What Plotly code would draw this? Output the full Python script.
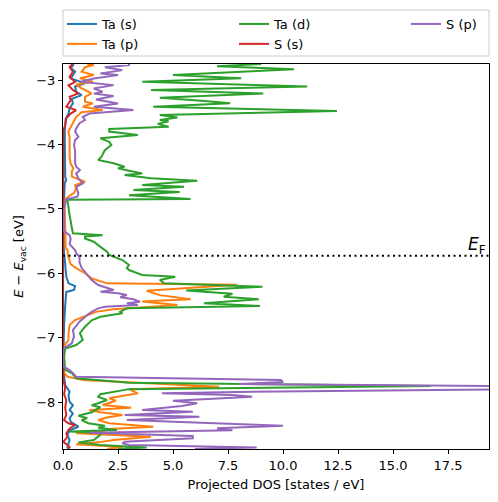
import plotly.graph_objects as go

# ---------------- data ----------------
ta_s_E = [-2.75, -2.767, -2.81, -2.87, -2.974, -3.051, -3.10, -3.182, -3.233, -3.29, -3.362, -3.44,
          -3.517, -3.6, -3.8, -4.2, -4.5, -4.553, -4.6, -4.85, -5.2, -5.6, -5.9, -6.05, -6.157, -6.2,
          -6.26, -6.29, -6.5, -6.8, -7.2, -7.5, -7.736, -7.80, -7.84, -7.90, -7.995, -8.05, -8.124,
          -8.18, -8.253, -8.31, -8.384, -8.44, -8.512, -8.59, -8.70, -8.73]
ta_s_dos = [0.45, 0.47, 0.35, 0.55, 0.35, 1.0, 0.55, 0.6, 0.85, 0.4, 0.45, 0.3,
            0.25, 0.12, 0.08, 0.08, 0.1, 0.15, 0.08, 0.05, 0.02, 0.03, 0.1, 0.15, 0.25, 0.55,
            0.5, 0.15, 0.1, 0.05, 0.02, 0.02, 0.1, 0.2, 0.3, 0.25, 0.3, 0.45, 0.3,
            0.45, 0.3, 0.35, 0.7, 0.3, 0.2, 0.3, 0.2, 0.25]

ta_p_E = [-2.75, -2.767, -2.80, -2.87, -2.922, -2.97, -3.026, -3.07, -3.129, -3.207, -3.26, -3.337,
          -3.362, -3.415, -3.466, -3.50, -3.57, -3.648, -3.72, -3.803, -3.88, -3.98, -4.09, -4.19,
          -4.30, -4.371, -4.42, -4.50, -4.579, -4.63, -4.682, -4.75, -4.812, -4.852, -5.0, -5.4,
          -5.6, -5.64, -5.75, -5.86, -5.92, -6.0, -6.08, -6.157, -6.18, -6.272, -6.34, -6.405,
          -6.44, -6.494, -6.561, -6.60, -6.649, -6.727, -6.804, -6.93, -7.037, -7.141, -7.3,
          -7.55, -7.607, -7.66, -7.763, -7.80, -7.865, -7.943, -7.98, -8.047, -8.089, -8.124,
          -8.16, -8.202, -8.24, -8.28, -8.33, -8.384, -8.42, -8.45, -8.486, -8.539, -8.59,
          -8.627, -8.657, -8.70, -8.73]
ta_p_dos = [1.1, 1.4, 1.0, 0.85, 1.4, 0.77, 1.36, 0.6, 0.85, 1.3, 1.0, 1.0,
            1.36, 0.9, 1.8, 0.85, 0.6, 0.47, 0.35, 0.24, 0.3, 0.3, 0.3, 0.3,
            0.35, 0.47, 0.4, 0.4, 1.0, 0.55, 0.6, 0.5, 0.24, 0.1, 0.08, 0.1,
            0.12, 0.2, 0.25, 0.35, 0.6, 1.0, 1.3, 2.0, 7.9, 3.8, 4.4, 5.8,
            3.6, 5.2, 2.3, 1.5, 1.1, 0.55, 0.3, 0.25, 0.25, 0.02, 0.02,
            0.05, 0.2, 0.9, 7.1, 3.0, 3.4, 2.1, 2.4, 1.8, 3.1, 1.2,
            1.7, 2.7, 2.0, 1.6, 2.1, 4.1, 2.1, 1.8, 0.6, 4.0, 2.3,
            1.6, 0.6, 2.7, 2.0]

ta_d_E = [-2.75, -2.785, -2.83, -2.92, -2.97, -3.026, -3.10, -3.155, -3.21, -3.275, -3.32, -3.36,
          -3.415, -3.48, -3.543, -3.58, -3.62, -3.64, -3.68, -3.725, -3.76, -3.80, -3.854, -3.905,
          -3.958, -4.01, -4.09, -4.19, -4.242, -4.293, -4.346, -4.37, -4.40, -4.449, -4.475,
          -4.526, -4.563, -4.63, -4.657, -4.708, -4.74, -4.79, -4.845, -4.86, -5.1, -5.38, -5.41,
          -5.43, -5.46, -5.51, -5.59, -5.666, -5.717, -5.795, -5.87, -5.92, -5.95, -6.028, -6.054,
          -6.106, -6.157, -6.21, -6.27, -6.32, -6.365, -6.405, -6.467, -6.509, -6.545, -6.598,
          -6.62, -6.675, -6.73, -6.83, -6.93, -7.037, -7.115, -7.17, -7.3, -7.5, -7.55, -7.63,
          -7.70, -7.752, -7.80, -7.88, -7.92, -7.969, -8.02, -8.05, -8.08, -8.124, -8.16, -8.213,
          -8.25, -8.28, -8.33, -8.37, -8.40, -8.435, -8.46, -8.48, -8.54, -8.59, -8.627, -8.668,
          -8.705, -8.73]
ta_d_dos = [9.0, 7.0, 10.5, 5.0, 8.1, 3.6, 11.1, 4.0, 9.1, 4.4, 6.3, 7.6,
            4.1, 12.45, 4.4, 5.2, 4.4, 4.8, 4.3, 4.8, 2.1, 2.1, 3.4, 1.7,
            2.1, 2.2, 1.9, 1.75, 1.6, 2.3, 2.8, 2.5, 2.9, 3.6, 2.8,
            4.0, 6.1, 3.6, 5.5, 3.2, 5.3, 3.0, 5.8, 0.2, 0.3, 0.45, 1.8,
            1.0, 1.0, 1.4, 1.7, 2.0, 2.1, 2.7, 3.0, 2.9, 3.0, 3.6, 5.1,
            4.4, 4.6, 9.06, 5.6, 7.7, 7.3, 8.9, 6.4, 8.95, 2.9, 2.6,
            2.7, 1.7, 1.3, 1.0, 0.77, 0.9, 0.6, 0.1, 0.05, 0.1, 0.4, 0.6,
            3.0, 16.7, 3.0, 1.7, 1.6, 2.0, 1.6, 1.3, 1.7, 1.45, 1.3, 0.7,
            1.1, 0.85, 1.15, 1.9, 1.6, 2.45, 0.3, 1.8, 1.6, 1.4, 0.7, 1.7,
            3.8, 2.5]

s_s_E = [-2.75, -2.767, -2.80, -2.87, -2.95, -3.026, -3.08, -3.155, -3.207, -3.26, -3.31, -3.415,
         -3.466, -3.52, -3.595, -3.70, -3.776, -4.5, -5.0, -6.0, -7.0, -7.658, -7.783, -7.88,
         -7.969, -8.09, -8.20, -8.28, -8.331, -8.357, -8.41, -8.486, -8.54, -8.617, -8.70, -8.73]
s_s_dos = [0.4, 0.4, 0.3, 0.45, 0.3, 0.55, 0.25, 0.45, 0.7, 0.3, 0.35, 0.15,
           0.6, 0.35, 0.15, 0.1, 0.02, 0.01, 0.0, 0.01, 0.0, 0.02, 0.1, 0.05,
           0.15, 0.1, 0.15, 0.05, 0.24, 0.55, 0.3, 0.15, 0.2, 0.02, 0.3, 0.25]

s_p_E = [-2.75, -2.767, -2.80, -2.845, -2.896, -2.92, -2.974, -3.026, -3.078, -3.13, -3.182, -3.21,
         -3.248, -3.30, -3.362, -3.415, -3.466, -3.52, -3.57, -3.62, -3.67, -3.75, -3.80, -3.88,
         -3.93, -4.009, -4.09, -4.19, -4.29, -4.346, -4.398, -4.45, -4.526, -4.604, -4.657, -4.708,
         -4.76, -4.812, -4.852, -5.0, -5.35, -5.407, -5.47, -5.55, -5.64, -5.69, -5.745, -5.83,
         -5.92, -6.02, -6.106, -6.183, -6.261, -6.287, -6.31, -6.339, -6.374, -6.405, -6.443,
         -6.467, -6.494, -6.52, -6.545, -6.60, -6.649, -6.753, -6.882, -6.98, -7.089, -7.166,
         -7.3, -7.45, -7.503, -7.554, -7.607, -7.66, -7.69, -7.72, -7.76, -7.80, -7.84, -7.865,
         -7.89, -7.92, -7.98, -8.02, -8.062, -8.124, -8.15, -8.202, -8.23, -8.28, -8.331, -8.37,
         -8.408, -8.44, -8.476, -8.528, -8.564, -8.617, -8.64, -8.668, -8.705, -8.73]
s_p_dos = [3.0, 3.0, 1.9, 2.7, 1.7, 2.5, 1.4, 0.8, 2.3, 1.4, 1.8, 1.4,
           2.3, 1.5, 2.5, 1.4, 3.2, 1.2, 0.9, 1.0, 0.75, 0.6, 0.55, 0.7,
           0.55, 0.5, 0.55, 0.55, 0.55, 0.6, 0.77, 0.6, 0.7, 0.9, 0.6, 0.65,
           0.7, 0.65, 0.15, 0.05, 0.05, 0.3, 0.35, 0.3, 0.55, 0.6, 0.75, 0.75,
           0.85, 1.1, 1.3, 1.6, 2.3, 1.7, 2.5, 2.9, 2.6, 3.2, 3.5,
           2.9, 3.4, 1.9, 1.6, 1.3, 1.1, 0.75, 0.45, 0.5, 0.4, 0.02,
           0.0, 0.02, 0.3, 0.45, 0.6, 9.9, 10.0, 8.0, 22.0, 21.0, 8.6, 4.5,
           7.7, 8.6, 5.0, 6.1, 5.4, 3.6, 5.9, 2.8, 6.2, 2.9, 7.0, 10.0,
           7.0, 7.7, 1.2, 5.9, 5.9, 2.8, 2.7, 3.0, 8.8, 6.0]

series_names = ["Ta (s)", "Ta (p)", "Ta (d)", "S (s)", "S (p)"]
series_E = [ta_s_E, ta_p_E, ta_d_E, s_s_E, s_p_E]
series_dos = [ta_s_dos, ta_p_dos, ta_d_dos, s_s_dos, s_p_dos]
colors = ["#1f77b4", "#ff7f0e", "#2ca02c", "#d62728", "#9467bd"]
legend_ids = ["legend", "legend", "legend2", "legend2", "legend3"]

E_fermi = -5.73
x_range = [0, 19.36]
y_range = [-8.73, -2.75]
x_ticks = [0, 2.5, 5, 7.5, 10, 12.5, 15, 17.5]
x_ticklabels = ["0.0", "2.5", "5.0", "7.5", "10.0", "12.5", "15.0", "17.5"]
y_ticks = [-8, -7, -6, -5, -4, -3]

# ---------------- figure ----------------
FONT = "DejaVu Sans"
fig = go.Figure()
for name, E, d, c, lg in zip(series_names, series_E, series_dos, colors, legend_ids):
    fig.add_trace(go.Scatter(x=d, y=E, mode="lines", name=name,
                             line=dict(color=c, width=2), legend=lg))

W, H = 498, 502
ml, mr, mt, mb = 63, 9, 64, 53
pw, ph = W - ml - mr, H - mt - mb

def px_x(p):
    return (p - ml) / pw

def px_y(p):
    return 1 + (mt - p) / ph

leg_common = dict(font=dict(family=FONT, size=13, color="#000"), bgcolor="rgba(0,0,0,0)",
                  borderwidth=0, xanchor="left", yanchor="top", orientation="v",
                  tracegroupgap=0, itemwidth=30)

fig.update_layout(
    width=W, height=H,
    margin=dict(l=ml, r=mr, t=mt, b=mb, autoexpand=False),
    paper_bgcolor="white", plot_bgcolor="white",
    font=dict(family=FONT, size=13, color="#000"),
    showlegend=True,
    legend=dict(x=px_x(62), y=px_y(9), **leg_common),
    legend2=dict(x=px_x(234), y=px_y(9), **leg_common),
    legend3=dict(x=px_x(406), y=px_y(9), **leg_common),
    xaxis=dict(range=x_range, tickvals=x_ticks, ticktext=x_ticklabels,
               showgrid=False, zeroline=False, showline=True, mirror=True,
               linecolor="black", linewidth=1, ticks="outside", ticklen=4,
               tickcolor="black", tickfont=dict(family=FONT, size=13),
               title=dict(text="Projected DOS [states / eV]",
                          font=dict(family=FONT, size=13), standoff=8)),
    yaxis=dict(range=y_range, tickvals=y_ticks,
               showgrid=False, zeroline=False, showline=True, mirror=True,
               linecolor="black", linewidth=1, ticks="outside", ticklen=4,
               tickcolor="black", tickfont=dict(family=FONT, size=13),
               title=dict(text="<i>E</i> − <i>E</i><sub>vac</sub> [eV]",
                          font=dict(family=FONT, size=13), standoff=9)),
)

# legend frame
fig.add_shape(type="rect", xref="paper", yref="paper",
              x0=px_x(63), x1=px_x(489), y0=px_y(56), y1=px_y(10),
              line=dict(color="#cccccc", width=1), fillcolor="rgba(255,255,255,0.8)",
              layer="below")

# Fermi level
fig.add_shape(type="line", xref="paper", yref="y", x0=0, x1=1, y0=E_fermi, y1=E_fermi,
              line=dict(color="black", width=2, dash="2px,3.5px"))
fig.add_annotation(xref="paper", yref="y", x=px_x(488), y=E_fermi, xanchor="right",
                   yanchor="bottom", yshift=-3, showarrow=False,
                   text="<i>E</i><sub>F</sub>", font=dict(family=FONT, size=17, color="black"))

fig.write_html("out.html", config={"displayModeBar": False},
               post_script="document.body.style.margin='0';")
